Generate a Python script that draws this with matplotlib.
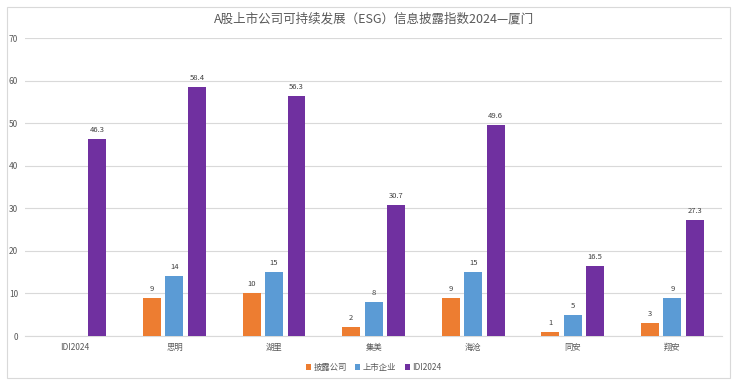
import matplotlib.pyplot as plt
import numpy as np
from matplotlib.patches import Rectangle

plt.rcParams['font.family'] = ['Noto Sans CJK SC', 'DejaVu Sans']

# Data
categories = ['IDI2024', '思明', '湖里', '集美', '海沧', '同安', '翔安']
disclosed = [None, 9, 10, 2, 9, 1, 3]
listed = [None, 14, 15, 8, 15, 5, 9]
idi2024 = [46.3, 58.4, 56.3, 30.7, 49.6, 16.5, 27.3]
series_names = ['披露公司', '上市企业', 'IDI2024']
colors = ['#ED7D31', '#5B9BD5', '#7030A0']

fig = plt.figure(figsize=(7.37, 3.84), dpi=100)
ax = fig.add_axes([0.034, 0.125, 0.946, 0.776])

x = np.arange(len(categories))
width = 0.18
offsets = [-0.225, 0, 0.225]
for vals, name, color, off in zip([disclosed, listed, idi2024], series_names, colors, offsets):
    xs = [xi + off for xi, v in zip(x, vals) if v is not None]
    ys = [v for v in vals if v is not None]
    bars = ax.bar(xs, ys, width, color=color, label=name, zorder=3)
    for b, v in zip(bars, ys):
        txt = f'{v:g}'
        ax.text(b.get_x() + b.get_width() / 2, v + 1.2, txt, ha='center', va='bottom',
                fontsize=5.5, color='#404040')

ax.set_xlim(-0.5, len(categories) - 0.5)
ax.set_ylim(0, 70)
ax.set_yticks(range(0, 71, 10))
ax.set_xticks(x)
ax.set_xticklabels(categories)
ax.tick_params(axis='both', length=0, labelsize=6, colors='#595959')
ax.tick_params(axis='y', pad=5)
ax.tick_params(axis='x', pad=5)
ax.grid(axis='y', color='#D9D9D9', linewidth=0.8, zorder=0)
for s in ['top', 'right', 'left']:
    ax.spines[s].set_visible(False)
ax.spines['bottom'].set_color('#D9D9D9')

ax.set_title('A股上市公司可持续发展（ESG）信息披露指数2024—厦门', fontsize=9,
             color='#595959', pad=11)

ax.legend(loc='upper center', bbox_to_anchor=(0.5, -0.065), ncol=3, frameon=False,
          fontsize=6, handlelength=0.6, handleheight=0.6, handletextpad=0.3,
          columnspacing=1.0, labelcolor='#595959')

fig.patches.append(Rectangle((0.01, 0.015), 0.98, 0.968, transform=fig.transFigure,
                             fill=False, edgecolor='#D9D9D9', linewidth=0.8))

fig.savefig('out.png', dpi=100)
